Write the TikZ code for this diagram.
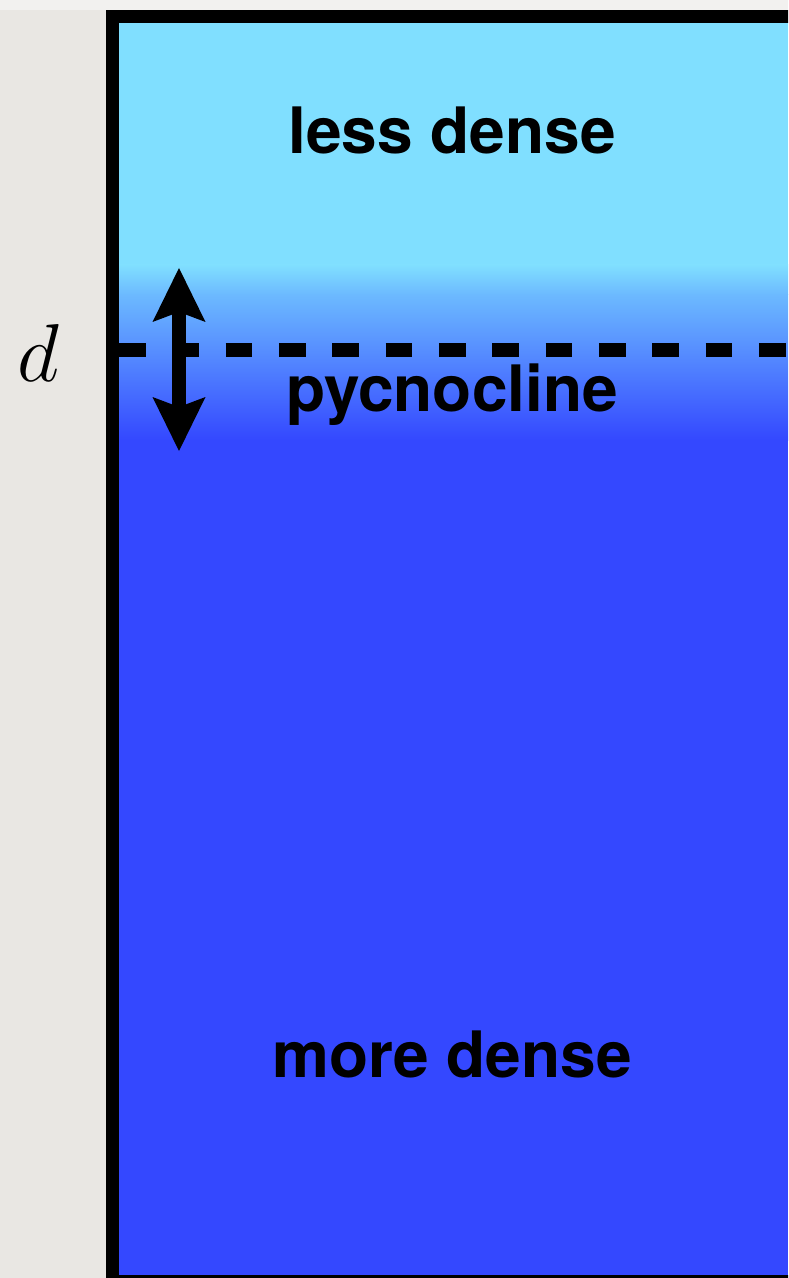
\documentclass[tikz,border=0pt]{standalone}
\usepackage{fontspec}
\usepackage{xcolor}
\usepackage{tikz}
\usetikzlibrary{arrows.meta, positioning}

\newfontfamily\heros{TeX Gyre Heros}

\definecolor{shallow}{RGB}{128,223,255}
\definecolor{midwater}{RGB}{108,185,255}
\definecolor{deep}{RGB}{52,72,255}
\definecolor{paper}{RGB}{233,231,227}
\definecolor{paperlight}{RGB}{242,241,239}

\begin{document}
\begin{tikzpicture}[
    x=0.5pt, y=-0.5pt,
    layer/.style={font=\heros\bfseries\fontsize{32}{38}\selectfont, anchor=base, inner sep=0pt},
    depthlabel/.style={font=\Huge, scale=1.65, anchor=base, inner sep=0pt},
    frame/.style={draw=black, line width=6.5pt},
    interface/.style={draw=black, line width=6.5pt, dash pattern=on 13.33pt off 13.33pt},
    arrow/.style={{Stealth[length=27pt, width=26.5pt, inset=5pt, line width=0pt]}-{Stealth[length=27pt, width=26.5pt, inset=5pt, line width=0pt]},
                  line width=6.67pt}
]
\useasboundingbox (0,0) rectangle (788,1278);
\clip (0,0) rectangle (788,1278);

% --- Background ---
\fill[paper] (0,0) rectangle (788,1278);
\fill[paperlight] (0,0) rectangle (788,10);

% --- Water column ---
\fill[deep] (119,23) rectangle (788,1275);
\fill[shallow] (119,23) rectangle (788,265);
% pycnocline gradient in two pieces
\shade[top color=shallow, bottom color=midwater] (119,265) rectangle (788,295);
\shade[top color=midwater, bottom color=deep] (119,295) rectangle (788,440);

% --- Tank walls ---
\draw[frame] (800,16.5) -- (112.5,16.5) -- (112.5,1281.5) -- (800,1281.5);

% --- Interface at depth d ---
\coordinate (dleft) at (119,350);
\coordinate (dright) at (800,350);
\draw[interface] (dleft) -- (dright);

% --- Displacement arrow ---
\coordinate (up) at (179,268);
\coordinate (down) at (179,451);
\draw[arrow] (up) -- (down);

% --- Labels ---
\node[depthlabel] (depth) at (38,381) {$d$};
\node[layer] (top) at (452,154) {less dense};
\node[layer] (pycno) at (452,411.7) {pycnocline};
\node[layer] (bottom) at (452,1077.3) {more dense};

\end{tikzpicture}
\end{document}
